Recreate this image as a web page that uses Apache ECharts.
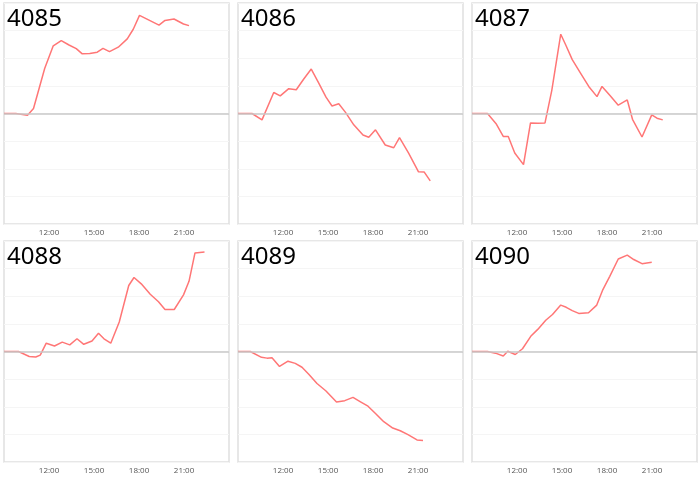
<!DOCTYPE html>
<html>
<head>
<meta charset="utf-8">
<script src="https://cdn.jsdelivr.net/npm/echarts@6/dist/echarts.min.js"></script>
<style>
html,body{margin:0;padding:0;background:#fff;}
#chart{width:700px;height:477px;}
</style>
</head>
<body>
<div id="chart"></div>
<script>
// Panel names
const panelNames = ['4085', '4086', '4087', '4088', '4089', '4090'];

// X-axis tick labels (hours)
const tickHours = [12, 15, 18, 21];

// Series data: times and values per panel
const times4085 = ['09:00','09:47','10:34','10:58','11:43','12:17','12:49','13:20','13:49','14:13','14:43','15:13','15:36','16:02','16:37','17:13','17:37','18:02','19:20','19:44','20:20','20:58','21:20'];
const values4085 = [0,0,-0.06,0.18,1.64,2.45,2.64,2.48,2.35,2.16,2.17,2.22,2.36,2.24,2.40,2.70,3.05,3.55,3.20,3.37,3.42,3.24,3.18];

const times4086 = ['09:00','09:56','10:36','11:23','11:49','12:23','12:53','13:23','13:53','14:23','14:52','15:16','15:43','16:10','16:43','17:20','17:43','18:10','18:49','19:23','19:46','20:23','21:02','21:25','21:49'];
const values4086 = [0,0,-0.23,0.76,0.64,0.90,0.86,1.25,1.61,1.10,0.59,0.27,0.35,0.04,-0.41,-0.78,-0.86,-0.59,-1.14,-1.24,-0.87,-1.44,-2.11,-2.12,-2.44];

const times4087 = ['09:00','10:02','10:38','11:05','11:25','11:51','12:26','12:54','13:23','13:52','14:19','14:55','15:15','15:41','16:14','16:47','17:20','17:40','18:12','18:45','19:21','19:42','20:20','20:59','21:20','21:43'];
const values4087 = [0,0,-0.39,-0.83,-0.83,-1.43,-1.85,-0.34,-0.35,-0.34,0.83,2.87,2.48,1.95,1.46,0.98,0.61,0.98,0.65,0.30,0.49,-0.21,-0.85,-0.05,-0.17,-0.23];

const times4088 = ['09:00','09:58','10:41','11:07','11:25','11:49','12:22','12:53','13:23','13:52','14:19','14:52','15:18','15:40','16:07','16:41','17:19','17:40','18:09','18:45','19:18','19:44','20:21','20:58','21:20','21:44','22:22'];
const values4088 = [0,0,-0.18,-0.20,-0.13,0.30,0.20,0.34,0.24,0.46,0.26,0.38,0.66,0.46,0.30,1.07,2.39,2.68,2.45,2.07,1.80,1.52,1.52,2.05,2.54,3.57,3.60];

const times4089 = ['09:00','09:49','10:34','10:56','11:16','11:46','12:20','12:49','13:16','13:43','14:16','14:52','15:34','16:07','16:40','17:10','17:40','18:12','18:43','19:19','19:49','20:20','20:56','21:20'];
const values4089 = [0,0,-0.21,-0.24,-0.23,-0.54,-0.35,-0.43,-0.57,-0.82,-1.16,-1.43,-1.83,-1.78,-1.66,-1.82,-1.98,-2.26,-2.54,-2.77,-2.87,-3.01,-3.20,-3.22];

const times4090 = ['09:00','10:02','10:34','11:05','11:23','11:53','12:22','12:55','13:23','13:55','14:22','14:55','15:17','15:41','16:07','16:46','17:19','17:42','18:11','18:45','19:21','19:47','20:20','20:59'];
const values4090 = [0,0,-0.06,-0.16,0.01,-0.11,0.10,0.55,0.80,1.13,1.34,1.68,1.60,1.48,1.38,1.40,1.68,2.21,2.72,3.35,3.49,3.33,3.18,3.23];

const panelTimes = [times4085, times4086, times4087, times4088, times4089, times4090];
const panelValues = [values4085, values4086, values4087, values4088, values4089, values4090];

function toHours(s) {
  const p = s.split(':');
  return Number(p[0]) + Number(p[1]) / 60;
}

// Layout
const lefts = [4, 238, 472];
const tops = [3, 241];
const W = 225, H = 221;

const grids = [], xAxes = [], yAxes = [], series = [], titles = [];
for (let i = 0; i < 6; i++) {
  const col = i % 3, row = Math.floor(i / 3);
  grids.push({
    left: lefts[col], top: tops[row], width: W, height: H,
    show: true, borderColor: '#e0e0e0', borderWidth: 1.5, backgroundColor: '#fff'
  });
  xAxes.push({
    type: 'value', gridIndex: i, min: 9, max: 24, interval: 3,
    axisLine: { show: false, onZero: false },
    axisTick: { show: false },
    splitLine: { show: false },
    axisLabel: {
      fontSize: 8, color: '#555', margin: 5, fontFamily: 'Open Sans, sans-serif',
      formatter: v => tickHours.indexOf(v) >= 0 ? v + ':00' : ''
    }
  });
  yAxes.push({
    type: 'value', gridIndex: i, min: -4, max: 4, interval: 1,
    axisLine: { show: false }, axisTick: { show: false }, axisLabel: { show: false },
    splitLine: { show: true, lineStyle: { color: '#f5f5f5', width: 1 } }
  });
  const data = panelTimes[i].map((t, k) => [toHours(t), panelValues[i][k]]);
  series.push({
    type: 'line', xAxisIndex: i, yAxisIndex: i, data: data,
    showSymbol: false, symbol: 'none',
    lineStyle: { color: '#ff7676', width: 1.5 },
    itemStyle: { color: '#ff7676' },
    markLine: {
      silent: true, symbol: ['none', 'none'], label: { show: false },
      lineStyle: { color: '#c8c8c8', width: 1.5, type: 'solid' },
      data: [{ yAxis: 0 }], animation: false
    },
    z: 3
  });
  titles.push({
    text: panelNames[i], left: lefts[col] + 3, top: tops[row] + 4, padding: 0,
    textStyle: { fontSize: 24, fontWeight: 'normal', color: '#000', fontFamily: 'Noto Sans, sans-serif' }
  });
}

const chart = echarts.init(document.getElementById('chart'), null, { renderer: 'canvas' });
chart.setOption({
  animation: false,
  backgroundColor: '#fff',
  title: titles,
  grid: grids,
  xAxis: xAxes,
  yAxis: yAxes,
  series: series
});
</script>
</body>
</html>
